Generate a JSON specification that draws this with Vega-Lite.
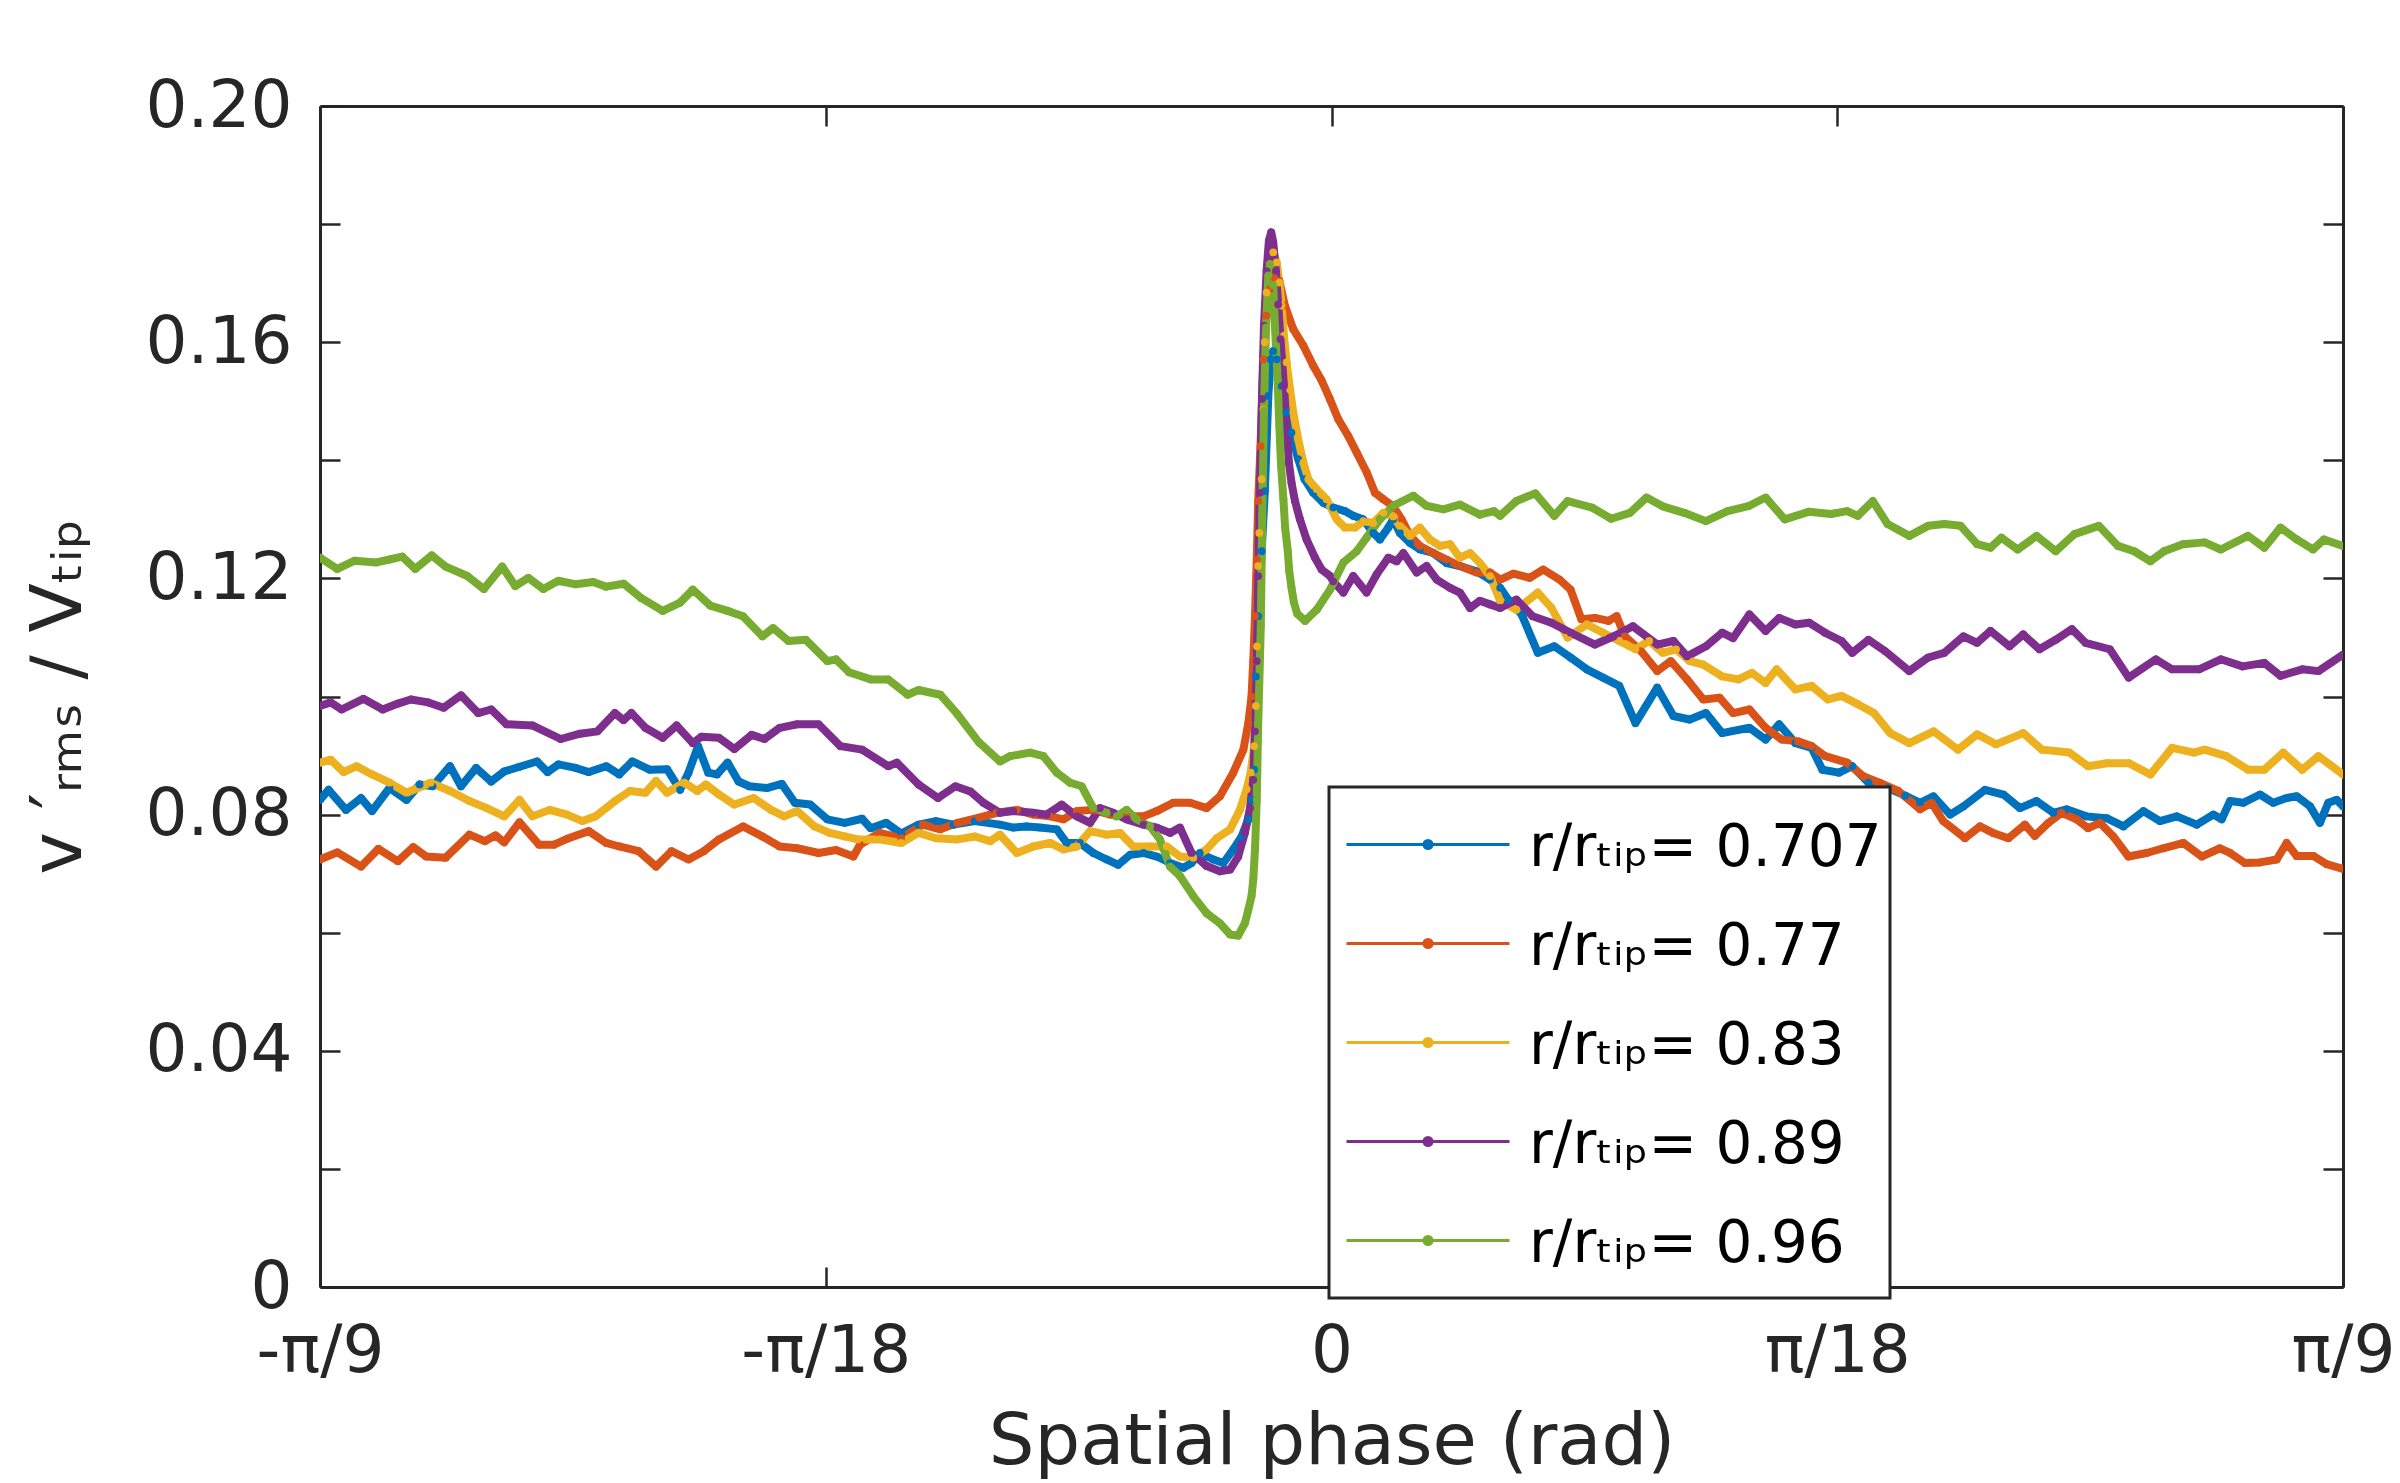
{
  "$schema": "https://vega.github.io/schema/vega-lite/v6.json",
  "autosize": {"type": "none"},
  "width": 2023,
  "height": 1181,
  "padding": {"left": 320, "top": 106, "right": 57, "bottom": 196},
  "background": "white",
  "config": {
    "view": {"stroke": null},
    "font": "DejaVu Sans",
    "axis": {"grid": false, "labelFont": "DejaVu Sans", "titleFont": "DejaVu Sans", "titleFontWeight": "normal"}
  },
  "data": {"values": [
    {"r":"0.707","phase":-0.3491,"v":0.0825},{"r":"0.707","phase":-0.3461,"v":0.0842},{"r":"0.707","phase":-0.3401,"v":0.0808},{"r":"0.707","phase":-0.3349,"v":0.0828},{"r":"0.707","phase":-0.3311,"v":0.0806},{"r":"0.707","phase":-0.3251,"v":0.0845},{"r":"0.707","phase":-0.3192,"v":0.0825},{"r":"0.707","phase":-0.3147,"v":0.0851},{"r":"0.707","phase":-0.3102,"v":0.0848},{"r":"0.707","phase":-0.3042,"v":0.0882},{"r":"0.707","phase":-0.3004,"v":0.0848},{"r":"0.707","phase":-0.2952,"v":0.0879},{"r":"0.707","phase":-0.29,"v":0.0856},{"r":"0.707","phase":-0.2855,"v":0.0873},{"r":"0.707","phase":-0.2802,"v":0.0881},{"r":"0.707","phase":-0.2742,"v":0.089},{"r":"0.707","phase":-0.2705,"v":0.0872},{"r":"0.707","phase":-0.2668,"v":0.0885},{"r":"0.707","phase":-0.2608,"v":0.0879},{"r":"0.707","phase":-0.2563,"v":0.0872},{"r":"0.707","phase":-0.2503,"v":0.0882},{"r":"0.707","phase":-0.2458,"v":0.0868},{"r":"0.707","phase":-0.2413,"v":0.089},{"r":"0.707","phase":-0.2353,"v":0.0876},{"r":"0.707","phase":-0.2293,"v":0.0877},{"r":"0.707","phase":-0.2248,"v":0.0842},{"r":"0.707","phase":-0.2219,"v":0.0871},{"r":"0.707","phase":-0.2186,"v":0.0916},{"r":"0.707","phase":-0.2151,"v":0.0871},{"r":"0.707","phase":-0.2121,"v":0.0868},{"r":"0.707","phase":-0.2084,"v":0.0888},{"r":"0.707","phase":-0.2046,"v":0.0856},{"r":"0.707","phase":-0.2009,"v":0.0848},{"r":"0.707","phase":-0.1949,"v":0.0845},{"r":"0.707","phase":-0.1897,"v":0.0852},{"r":"0.707","phase":-0.1852,"v":0.082},{"r":"0.707","phase":-0.1799,"v":0.0817},{"r":"0.707","phase":-0.174,"v":0.0792},{"r":"0.707","phase":-0.168,"v":0.0786},{"r":"0.707","phase":-0.162,"v":0.0793},{"r":"0.707","phase":-0.159,"v":0.0777},{"r":"0.707","phase":-0.1537,"v":0.0786},{"r":"0.707","phase":-0.1485,"v":0.0768},{"r":"0.707","phase":-0.1425,"v":0.0783},{"r":"0.707","phase":-0.1365,"v":0.0789},{"r":"0.707","phase":-0.1305,"v":0.0783},{"r":"0.707","phase":-0.1231,"v":0.0789},{"r":"0.707","phase":-0.1144,"v":0.0783},{"r":"0.707","phase":-0.1098,"v":0.0778},{"r":"0.707","phase":-0.1052,"v":0.078},{"r":"0.707","phase":-0.1006,"v":0.0778},{"r":"0.707","phase":-0.0948,"v":0.0775},{"r":"0.707","phase":-0.0914,"v":0.0752},{"r":"0.707","phase":-0.0868,"v":0.0752},{"r":"0.707","phase":-0.0822,"v":0.0735},{"r":"0.707","phase":-0.0776,"v":0.0724},{"r":"0.707","phase":-0.0736,"v":0.0715},{"r":"0.707","phase":-0.0695,"v":0.0732},{"r":"0.707","phase":-0.0649,"v":0.0735},{"r":"0.707","phase":-0.0603,"v":0.0729},{"r":"0.707","phase":-0.0557,"v":0.0718},{"r":"0.707","phase":-0.0511,"v":0.071},{"r":"0.707","phase":-0.0483,"v":0.0718},{"r":"0.707","phase":-0.0454,"v":0.0735},{"r":"0.707","phase":-0.0408,"v":0.0724},{"r":"0.707","phase":-0.0373,"v":0.0718},{"r":"0.707","phase":-0.0339,"v":0.0741},{"r":"0.707","phase":-0.031,"v":0.0763},{"r":"0.707","phase":-0.0287,"v":0.0792},{"r":"0.707","phase":-0.0276,"v":0.0825},{"r":"0.707","phase":-0.0267,"v":0.0876},{"r":"0.707","phase":-0.0261,"v":0.1034},{"r":"0.707","phase":-0.0253,"v":0.1136},{"r":"0.707","phase":-0.0241,"v":0.1246},{"r":"0.707","phase":-0.023,"v":0.1348},{"r":"0.707","phase":-0.0218,"v":0.1509},{"r":"0.707","phase":-0.021,"v":0.1571},{"r":"0.707","phase":-0.0201,"v":0.1585},{"r":"0.707","phase":-0.0189,"v":0.1571},{"r":"0.707","phase":-0.0172,"v":0.1526},{"r":"0.707","phase":-0.0155,"v":0.1481},{"r":"0.707","phase":-0.0138,"v":0.1447},{"r":"0.707","phase":-0.0115,"v":0.1402},{"r":"0.707","phase":-0.0093,"v":0.1368},{"r":"0.707","phase":-0.0063,"v":0.1345},{"r":"0.707","phase":-0.0028,"v":0.1328},{"r":"0.707","phase":0.0006,"v":0.132},{"r":"0.707","phase":0.0046,"v":0.1314},{"r":"0.707","phase":0.0075,"v":0.1306},{"r":"0.707","phase":0.0109,"v":0.13},{"r":"0.707","phase":0.0144,"v":0.1277},{"r":"0.707","phase":0.0167,"v":0.1266},{"r":"0.707","phase":0.0196,"v":0.1286},{"r":"0.707","phase":0.0213,"v":0.13},{"r":"0.707","phase":0.0236,"v":0.1277},{"r":"0.707","phase":0.0271,"v":0.126},{"r":"0.707","phase":0.0305,"v":0.1249},{"r":"0.707","phase":0.0351,"v":0.1243},{"r":"0.707","phase":0.0397,"v":0.1226},{"r":"0.707","phase":0.0443,"v":0.1221},{"r":"0.707","phase":0.0501,"v":0.1212},{"r":"0.707","phase":0.0547,"v":0.1198},{"r":"0.707","phase":0.0582,"v":0.1184},{"r":"0.707","phase":0.061,"v":0.1164},{"r":"0.707","phase":0.0656,"v":0.1139},{"r":"0.707","phase":0.0712,"v":0.1074},{"r":"0.707","phase":0.0769,"v":0.1085},{"r":"0.707","phase":0.0825,"v":0.1066},{"r":"0.707","phase":0.0881,"v":0.1046},{"r":"0.707","phase":0.0937,"v":0.1032},{"r":"0.707","phase":0.0993,"v":0.1018},{"r":"0.707","phase":0.1049,"v":0.0955},{"r":"0.707","phase":0.1124,"v":0.1015},{"r":"0.707","phase":0.118,"v":0.0967},{"r":"0.707","phase":0.1236,"v":0.0961},{"r":"0.707","phase":0.1292,"v":0.0972},{"r":"0.707","phase":0.1348,"v":0.0938},{"r":"0.707","phase":0.1442,"v":0.0947},{"r":"0.707","phase":0.1498,"v":0.0927},{"r":"0.707","phase":0.1545,"v":0.0953},{"r":"0.707","phase":0.1601,"v":0.0921},{"r":"0.707","phase":0.1657,"v":0.0913},{"r":"0.707","phase":0.1694,"v":0.0876},{"r":"0.707","phase":0.1751,"v":0.0871},{"r":"0.707","phase":0.1797,"v":0.0882},{"r":"0.707","phase":0.1853,"v":0.0854},{"r":"0.707","phase":0.192,"v":0.0845},{"r":"0.707","phase":0.198,"v":0.0832},{"r":"0.707","phase":0.2031,"v":0.082},{"r":"0.707","phase":0.2077,"v":0.0831},{"r":"0.707","phase":0.2135,"v":0.08},{"r":"0.707","phase":0.2181,"v":0.0814},{"r":"0.707","phase":0.2255,"v":0.0842},{"r":"0.707","phase":0.2319,"v":0.0834},{"r":"0.707","phase":0.2376,"v":0.0811},{"r":"0.707","phase":0.2433,"v":0.0823},{"r":"0.707","phase":0.2491,"v":0.0803},{"r":"0.707","phase":0.2537,"v":0.0809},{"r":"0.707","phase":0.2605,"v":0.0797},{"r":"0.707","phase":0.2675,"v":0.0794},{"r":"0.707","phase":0.2733,"v":0.078},{"r":"0.707","phase":0.2802,"v":0.0806},{"r":"0.707","phase":0.2859,"v":0.0789},{"r":"0.707","phase":0.2917,"v":0.0797},{"r":"0.707","phase":0.2986,"v":0.0783},{"r":"0.707","phase":0.3043,"v":0.08},{"r":"0.707","phase":0.3072,"v":0.0792},{"r":"0.707","phase":0.3101,"v":0.0823},{"r":"0.707","phase":0.3147,"v":0.082},{"r":"0.707","phase":0.3204,"v":0.0834},{"r":"0.707","phase":0.325,"v":0.082},{"r":"0.707","phase":0.3296,"v":0.0828},{"r":"0.707","phase":0.3331,"v":0.0831},{"r":"0.707","phase":0.3377,"v":0.0814},{"r":"0.707","phase":0.3411,"v":0.0786},{"r":"0.707","phase":0.344,"v":0.082},{"r":"0.707","phase":0.3469,"v":0.0825},{"r":"0.707","phase":0.3491,"v":0.0814},

    {"r":"0.77","phase":-0.3491,"v":0.0724},{"r":"0.77","phase":-0.3431,"v":0.0736},{"r":"0.77","phase":-0.3349,"v":0.0712},{"r":"0.77","phase":-0.3289,"v":0.0742},{"r":"0.77","phase":-0.3222,"v":0.0721},{"r":"0.77","phase":-0.3169,"v":0.0745},{"r":"0.77","phase":-0.3124,"v":0.0729},{"r":"0.77","phase":-0.3057,"v":0.0727},{"r":"0.77","phase":-0.2975,"v":0.0766},{"r":"0.77","phase":-0.2922,"v":0.0755},{"r":"0.77","phase":-0.2885,"v":0.0765},{"r":"0.77","phase":-0.2855,"v":0.0753},{"r":"0.77","phase":-0.2802,"v":0.0787},{"r":"0.77","phase":-0.2735,"v":0.0749},{"r":"0.77","phase":-0.2683,"v":0.0749},{"r":"0.77","phase":-0.2638,"v":0.0759},{"r":"0.77","phase":-0.2563,"v":0.0772},{"r":"0.77","phase":-0.2503,"v":0.0752},{"r":"0.77","phase":-0.2458,"v":0.0746},{"r":"0.77","phase":-0.2391,"v":0.0738},{"r":"0.77","phase":-0.2331,"v":0.0712},{"r":"0.77","phase":-0.2278,"v":0.0738},{"r":"0.77","phase":-0.2219,"v":0.0724},{"r":"0.77","phase":-0.2166,"v":0.0738},{"r":"0.77","phase":-0.2114,"v":0.0758},{"r":"0.77","phase":-0.2031,"v":0.078},{"r":"0.77","phase":-0.1964,"v":0.0763},{"r":"0.77","phase":-0.1904,"v":0.0746},{"r":"0.77","phase":-0.1844,"v":0.0743},{"r":"0.77","phase":-0.177,"v":0.0735},{"r":"0.77","phase":-0.171,"v":0.074},{"r":"0.77","phase":-0.165,"v":0.0729},{"r":"0.77","phase":-0.1627,"v":0.0749},{"r":"0.77","phase":-0.156,"v":0.0769},{"r":"0.77","phase":-0.1485,"v":0.076},{"r":"0.77","phase":-0.141,"v":0.0783},{"r":"0.77","phase":-0.135,"v":0.0775},{"r":"0.77","phase":-0.1291,"v":0.0786},{"r":"0.77","phase":-0.1216,"v":0.0795},{"r":"0.77","phase":-0.1156,"v":0.0803},{"r":"0.77","phase":-0.1086,"v":0.0808},{"r":"0.77","phase":-0.1029,"v":0.08},{"r":"0.77","phase":-0.0971,"v":0.0797},{"r":"0.77","phase":-0.0925,"v":0.0792},{"r":"0.77","phase":-0.0879,"v":0.0806},{"r":"0.77","phase":-0.0822,"v":0.0808},{"r":"0.77","phase":-0.0764,"v":0.08},{"r":"0.77","phase":-0.0707,"v":0.0797},{"r":"0.77","phase":-0.0649,"v":0.0797},{"r":"0.77","phase":-0.0603,"v":0.0806},{"r":"0.77","phase":-0.0546,"v":0.082},{"r":"0.77","phase":-0.0488,"v":0.082},{"r":"0.77","phase":-0.0431,"v":0.0811},{"r":"0.77","phase":-0.0385,"v":0.0831},{"r":"0.77","phase":-0.0339,"v":0.0871},{"r":"0.77","phase":-0.0304,"v":0.091},{"r":"0.77","phase":-0.0287,"v":0.0955},{"r":"0.77","phase":-0.0276,"v":0.1},{"r":"0.77","phase":-0.027,"v":0.106},{"r":"0.77","phase":-0.0264,"v":0.1136},{"r":"0.77","phase":-0.0258,"v":0.1232},{"r":"0.77","phase":-0.0253,"v":0.1331},{"r":"0.77","phase":-0.0245,"v":0.1424},{"r":"0.77","phase":-0.0235,"v":0.1571},{"r":"0.77","phase":-0.0226,"v":0.1645},{"r":"0.77","phase":-0.0212,"v":0.169},{"r":"0.77","phase":-0.0199,"v":0.171},{"r":"0.77","phase":-0.018,"v":0.1704},{"r":"0.77","phase":-0.0161,"v":0.1662},{"r":"0.77","phase":-0.0132,"v":0.1622},{"r":"0.77","phase":-0.0097,"v":0.1594},{"r":"0.77","phase":-0.0063,"v":0.156},{"r":"0.77","phase":-0.0034,"v":0.1535},{"r":"0.77","phase":-0.0005,"v":0.1503},{"r":"0.77","phase":0.0023,"v":0.147},{"r":"0.77","phase":0.0058,"v":0.1441},{"r":"0.77","phase":0.0087,"v":0.1413},{"r":"0.77","phase":0.0122,"v":0.1379},{"r":"0.77","phase":0.015,"v":0.1345},{"r":"0.77","phase":0.0179,"v":0.1334},{"r":"0.77","phase":0.0213,"v":0.1322},{"r":"0.77","phase":0.0242,"v":0.13},{"r":"0.77","phase":0.0271,"v":0.1272},{"r":"0.77","phase":0.0305,"v":0.1255},{"r":"0.77","phase":0.0351,"v":0.1243},{"r":"0.77","phase":0.0397,"v":0.1232},{"r":"0.77","phase":0.0443,"v":0.1221},{"r":"0.77","phase":0.0501,"v":0.121},{"r":"0.77","phase":0.0547,"v":0.121},{"r":"0.77","phase":0.0582,"v":0.1198},{"r":"0.77","phase":0.0628,"v":0.1208},{"r":"0.77","phase":0.0684,"v":0.1201},{"r":"0.77","phase":0.0731,"v":0.1215},{"r":"0.77","phase":0.0787,"v":0.1198},{"r":"0.77","phase":0.0825,"v":0.1181},{"r":"0.77","phase":0.0862,"v":0.1131},{"r":"0.77","phase":0.0909,"v":0.1133},{"r":"0.77","phase":0.0956,"v":0.1128},{"r":"0.77","phase":0.0984,"v":0.1136},{"r":"0.77","phase":0.1012,"v":0.1102},{"r":"0.77","phase":0.1068,"v":0.1077},{"r":"0.77","phase":0.1124,"v":0.1043},{"r":"0.77","phase":0.1171,"v":0.106},{"r":"0.77","phase":0.1227,"v":0.1029},{"r":"0.77","phase":0.1283,"v":0.0995},{"r":"0.77","phase":0.1339,"v":0.0998},{"r":"0.77","phase":0.1386,"v":0.0972},{"r":"0.77","phase":0.1442,"v":0.0978},{"r":"0.77","phase":0.1498,"v":0.0947},{"r":"0.77","phase":0.1554,"v":0.0927},{"r":"0.77","phase":0.161,"v":0.0924},{"r":"0.77","phase":0.1657,"v":0.0916},{"r":"0.77","phase":0.1704,"v":0.0899},{"r":"0.77","phase":0.1779,"v":0.0888},{"r":"0.77","phase":0.1835,"v":0.0865},{"r":"0.77","phase":0.1891,"v":0.0854},{"r":"0.77","phase":0.1956,"v":0.084},{"r":"0.77","phase":0.2031,"v":0.0809},{"r":"0.77","phase":0.2071,"v":0.082},{"r":"0.77","phase":0.2111,"v":0.0789},{"r":"0.77","phase":0.2186,"v":0.076},{"r":"0.77","phase":0.2238,"v":0.078},{"r":"0.77","phase":0.2283,"v":0.0769},{"r":"0.77","phase":0.2336,"v":0.076},{"r":"0.77","phase":0.2393,"v":0.0783},{"r":"0.77","phase":0.2427,"v":0.0764},{"r":"0.77","phase":0.2474,"v":0.0786},{"r":"0.77","phase":0.252,"v":0.0803},{"r":"0.77","phase":0.2571,"v":0.0792},{"r":"0.77","phase":0.2611,"v":0.0777},{"r":"0.77","phase":0.2652,"v":0.0786},{"r":"0.77","phase":0.2698,"v":0.0763},{"r":"0.77","phase":0.275,"v":0.0729},{"r":"0.77","phase":0.2813,"v":0.0735},{"r":"0.77","phase":0.287,"v":0.0743},{"r":"0.77","phase":0.294,"v":0.0752},{"r":"0.77","phase":0.3003,"v":0.0729},{"r":"0.77","phase":0.3066,"v":0.0743},{"r":"0.77","phase":0.3101,"v":0.0735},{"r":"0.77","phase":0.3152,"v":0.0718},{"r":"0.77","phase":0.3204,"v":0.0719},{"r":"0.77","phase":0.3262,"v":0.0724},{"r":"0.77","phase":0.3296,"v":0.0752},{"r":"0.77","phase":0.3331,"v":0.073},{"r":"0.77","phase":0.3388,"v":0.073},{"r":"0.77","phase":0.3434,"v":0.0716},{"r":"0.77","phase":0.3491,"v":0.0708},

    {"r":"0.83","phase":-0.3491,"v":0.0888},{"r":"0.83","phase":-0.3454,"v":0.0893},{"r":"0.83","phase":-0.3409,"v":0.0872},{"r":"0.83","phase":-0.3364,"v":0.0882},{"r":"0.83","phase":-0.3311,"v":0.0868},{"r":"0.83","phase":-0.3251,"v":0.0854},{"r":"0.83","phase":-0.3192,"v":0.0837},{"r":"0.83","phase":-0.3109,"v":0.0854},{"r":"0.83","phase":-0.3042,"v":0.084},{"r":"0.83","phase":-0.2975,"v":0.0823},{"r":"0.83","phase":-0.2915,"v":0.0811},{"r":"0.83","phase":-0.2855,"v":0.0797},{"r":"0.83","phase":-0.2802,"v":0.0825},{"r":"0.83","phase":-0.2758,"v":0.0797},{"r":"0.83","phase":-0.2698,"v":0.0808},{"r":"0.83","phase":-0.2638,"v":0.08},{"r":"0.83","phase":-0.2585,"v":0.0789},{"r":"0.83","phase":-0.254,"v":0.0797},{"r":"0.83","phase":-0.2473,"v":0.0823},{"r":"0.83","phase":-0.2421,"v":0.084},{"r":"0.83","phase":-0.2368,"v":0.0837},{"r":"0.83","phase":-0.2331,"v":0.0857},{"r":"0.83","phase":-0.2293,"v":0.0837},{"r":"0.83","phase":-0.2234,"v":0.0854},{"r":"0.83","phase":-0.2189,"v":0.084},{"r":"0.83","phase":-0.2159,"v":0.0851},{"r":"0.83","phase":-0.2114,"v":0.0834},{"r":"0.83","phase":-0.2061,"v":0.0817},{"r":"0.83","phase":-0.1994,"v":0.0828},{"r":"0.83","phase":-0.1934,"v":0.0808},{"r":"0.83","phase":-0.1889,"v":0.0797},{"r":"0.83","phase":-0.1844,"v":0.0806},{"r":"0.83","phase":-0.1784,"v":0.078},{"r":"0.83","phase":-0.1732,"v":0.0769},{"r":"0.83","phase":-0.168,"v":0.0763},{"r":"0.83","phase":-0.1635,"v":0.0758},{"r":"0.83","phase":-0.156,"v":0.0758},{"r":"0.83","phase":-0.1485,"v":0.0752},{"r":"0.83","phase":-0.1425,"v":0.0769},{"r":"0.83","phase":-0.1365,"v":0.076},{"r":"0.83","phase":-0.1291,"v":0.0758},{"r":"0.83","phase":-0.1231,"v":0.0763},{"r":"0.83","phase":-0.1178,"v":0.0755},{"r":"0.83","phase":-0.1144,"v":0.0766},{"r":"0.83","phase":-0.1086,"v":0.0735},{"r":"0.83","phase":-0.1029,"v":0.0746},{"r":"0.83","phase":-0.0971,"v":0.0752},{"r":"0.83","phase":-0.0925,"v":0.0741},{"r":"0.83","phase":-0.0879,"v":0.0746},{"r":"0.83","phase":-0.0833,"v":0.0772},{"r":"0.83","phase":-0.0776,"v":0.0766},{"r":"0.83","phase":-0.073,"v":0.0769},{"r":"0.83","phase":-0.0684,"v":0.0746},{"r":"0.83","phase":-0.0626,"v":0.0746},{"r":"0.83","phase":-0.0569,"v":0.0746},{"r":"0.83","phase":-0.0523,"v":0.0729},{"r":"0.83","phase":-0.0477,"v":0.0727},{"r":"0.83","phase":-0.0431,"v":0.0741},{"r":"0.83","phase":-0.0396,"v":0.076},{"r":"0.83","phase":-0.035,"v":0.0775},{"r":"0.83","phase":-0.0316,"v":0.0808},{"r":"0.83","phase":-0.0293,"v":0.0843},{"r":"0.83","phase":-0.0279,"v":0.0871},{"r":"0.83","phase":-0.0267,"v":0.0916},{"r":"0.83","phase":-0.0261,"v":0.0984},{"r":"0.83","phase":-0.0257,"v":0.1085},{"r":"0.83","phase":-0.0253,"v":0.1221},{"r":"0.83","phase":-0.0249,"v":0.1277},{"r":"0.83","phase":-0.0241,"v":0.1368},{"r":"0.83","phase":-0.0235,"v":0.1486},{"r":"0.83","phase":-0.023,"v":0.16},{"r":"0.83","phase":-0.0224,"v":0.1684},{"r":"0.83","phase":-0.0212,"v":0.1732},{"r":"0.83","phase":-0.0201,"v":0.1752},{"r":"0.83","phase":-0.0189,"v":0.1735},{"r":"0.83","phase":-0.018,"v":0.1701},{"r":"0.83","phase":-0.0172,"v":0.1662},{"r":"0.83","phase":-0.0164,"v":0.1611},{"r":"0.83","phase":-0.0155,"v":0.1566},{"r":"0.83","phase":-0.0143,"v":0.152},{"r":"0.83","phase":-0.0132,"v":0.1481},{"r":"0.83","phase":-0.0115,"v":0.1436},{"r":"0.83","phase":-0.0097,"v":0.1396},{"r":"0.83","phase":-0.008,"v":0.1368},{"r":"0.83","phase":-0.0051,"v":0.1351},{"r":"0.83","phase":-0.0017,"v":0.1334},{"r":"0.83","phase":0.0018,"v":0.13},{"r":"0.83","phase":0.0046,"v":0.1286},{"r":"0.83","phase":0.0081,"v":0.1286},{"r":"0.83","phase":0.011,"v":0.1297},{"r":"0.83","phase":0.0144,"v":0.1294},{"r":"0.83","phase":0.0179,"v":0.1311},{"r":"0.83","phase":0.0213,"v":0.1305},{"r":"0.83","phase":0.0236,"v":0.1289},{"r":"0.83","phase":0.0271,"v":0.1272},{"r":"0.83","phase":0.0305,"v":0.1286},{"r":"0.83","phase":0.0339,"v":0.1266},{"r":"0.83","phase":0.0374,"v":0.1255},{"r":"0.83","phase":0.0409,"v":0.1258},{"r":"0.83","phase":0.0443,"v":0.1235},{"r":"0.83","phase":0.0478,"v":0.1243},{"r":"0.83","phase":0.0512,"v":0.1226},{"r":"0.83","phase":0.0547,"v":0.1204},{"r":"0.83","phase":0.0582,"v":0.1162},{"r":"0.83","phase":0.0638,"v":0.1147},{"r":"0.83","phase":0.0712,"v":0.1176},{"r":"0.83","phase":0.0759,"v":0.115},{"r":"0.83","phase":0.0815,"v":0.11},{"r":"0.83","phase":0.0881,"v":0.1122},{"r":"0.83","phase":0.0937,"v":0.1108},{"r":"0.83","phase":0.0993,"v":0.1094},{"r":"0.83","phase":0.1049,"v":0.108},{"r":"0.83","phase":0.1096,"v":0.1094},{"r":"0.83","phase":0.1143,"v":0.1074},{"r":"0.83","phase":0.1189,"v":0.108},{"r":"0.83","phase":0.1236,"v":0.106},{"r":"0.83","phase":0.1283,"v":0.1054},{"r":"0.83","phase":0.1348,"v":0.1034},{"r":"0.83","phase":0.1404,"v":0.1029},{"r":"0.83","phase":0.1451,"v":0.104},{"r":"0.83","phase":0.1498,"v":0.1023},{"r":"0.83","phase":0.1536,"v":0.1046},{"r":"0.83","phase":0.1601,"v":0.1012},{"r":"0.83","phase":0.1657,"v":0.1018},{"r":"0.83","phase":0.1713,"v":0.0995},{"r":"0.83","phase":0.176,"v":0.1001},{"r":"0.83","phase":0.1816,"v":0.0987},{"r":"0.83","phase":0.1872,"v":0.0972},{"r":"0.83","phase":0.1928,"v":0.0938},{"r":"0.83","phase":0.1994,"v":0.0921},{"r":"0.83","phase":0.2078,"v":0.0941},{"r":"0.83","phase":0.2162,"v":0.091},{"r":"0.83","phase":0.2228,"v":0.0936},{"r":"0.83","phase":0.2293,"v":0.0919},{"r":"0.83","phase":0.2387,"v":0.0938},{"r":"0.83","phase":0.2452,"v":0.091},{"r":"0.83","phase":0.2546,"v":0.0905},{"r":"0.83","phase":0.2611,"v":0.0882},{"r":"0.83","phase":0.2677,"v":0.0887},{"r":"0.83","phase":0.2752,"v":0.0887},{"r":"0.83","phase":0.2826,"v":0.0868},{"r":"0.83","phase":0.2901,"v":0.0913},{"r":"0.83","phase":0.2976,"v":0.0905},{"r":"0.83","phase":0.3013,"v":0.091},{"r":"0.83","phase":0.3088,"v":0.0899},{"r":"0.83","phase":0.3163,"v":0.0876},{"r":"0.83","phase":0.3219,"v":0.0876},{"r":"0.83","phase":0.3284,"v":0.0905},{"r":"0.83","phase":0.335,"v":0.0876},{"r":"0.83","phase":0.3406,"v":0.0899},{"r":"0.83","phase":0.3491,"v":0.0868},

    {"r":"0.89","phase":-0.3491,"v":0.0984},{"r":"0.89","phase":-0.3454,"v":0.099},{"r":"0.89","phase":-0.3416,"v":0.0978},{"r":"0.89","phase":-0.3341,"v":0.0996},{"r":"0.89","phase":-0.3274,"v":0.0978},{"r":"0.89","phase":-0.3222,"v":0.0988},{"r":"0.89","phase":-0.3177,"v":0.0995},{"r":"0.89","phase":-0.3117,"v":0.099},{"r":"0.89","phase":-0.3064,"v":0.0981},{"r":"0.89","phase":-0.3004,"v":0.1002},{"r":"0.89","phase":-0.2945,"v":0.0972},{"r":"0.89","phase":-0.29,"v":0.0978},{"r":"0.89","phase":-0.2847,"v":0.0953},{"r":"0.89","phase":-0.2758,"v":0.0951},{"r":"0.89","phase":-0.266,"v":0.0928},{"r":"0.89","phase":-0.2593,"v":0.0937},{"r":"0.89","phase":-0.2533,"v":0.0941},{"r":"0.89","phase":-0.2473,"v":0.0972},{"r":"0.89","phase":-0.2443,"v":0.096},{"r":"0.89","phase":-0.2416,"v":0.0972},{"r":"0.89","phase":-0.2368,"v":0.0947},{"r":"0.89","phase":-0.2308,"v":0.093},{"r":"0.89","phase":-0.226,"v":0.0951},{"r":"0.89","phase":-0.2204,"v":0.0921},{"r":"0.89","phase":-0.2174,"v":0.0932},{"r":"0.89","phase":-0.2114,"v":0.093},{"r":"0.89","phase":-0.2061,"v":0.0911},{"r":"0.89","phase":-0.2001,"v":0.0935},{"r":"0.89","phase":-0.1957,"v":0.0928},{"r":"0.89","phase":-0.1904,"v":0.0947},{"r":"0.89","phase":-0.1844,"v":0.0953},{"r":"0.89","phase":-0.177,"v":0.0953},{"r":"0.89","phase":-0.1695,"v":0.0916},{"r":"0.89","phase":-0.162,"v":0.091},{"r":"0.89","phase":-0.153,"v":0.0882},{"r":"0.89","phase":-0.15,"v":0.0888},{"r":"0.89","phase":-0.1425,"v":0.0851},{"r":"0.89","phase":-0.1358,"v":0.0828},{"r":"0.89","phase":-0.1298,"v":0.0848},{"r":"0.89","phase":-0.1246,"v":0.0839},{"r":"0.89","phase":-0.1201,"v":0.082},{"r":"0.89","phase":-0.1144,"v":0.0803},{"r":"0.89","phase":-0.1098,"v":0.0806},{"r":"0.89","phase":-0.1029,"v":0.0803},{"r":"0.89","phase":-0.0983,"v":0.08},{"r":"0.89","phase":-0.0931,"v":0.0817},{"r":"0.89","phase":-0.0879,"v":0.0797},{"r":"0.89","phase":-0.0833,"v":0.0786},{"r":"0.89","phase":-0.0799,"v":0.0811},{"r":"0.89","phase":-0.0753,"v":0.0803},{"r":"0.89","phase":-0.0707,"v":0.0792},{"r":"0.89","phase":-0.0649,"v":0.0783},{"r":"0.89","phase":-0.0603,"v":0.0778},{"r":"0.89","phase":-0.0557,"v":0.0769},{"r":"0.89","phase":-0.0523,"v":0.0778},{"r":"0.89","phase":-0.0483,"v":0.0735},{"r":"0.89","phase":-0.0431,"v":0.0713},{"r":"0.89","phase":-0.0385,"v":0.0704},{"r":"0.89","phase":-0.035,"v":0.0707},{"r":"0.89","phase":-0.0322,"v":0.0729},{"r":"0.89","phase":-0.0299,"v":0.0769},{"r":"0.89","phase":-0.0281,"v":0.0811},{"r":"0.89","phase":-0.027,"v":0.0859},{"r":"0.89","phase":-0.0264,"v":0.0941},{"r":"0.89","phase":-0.0258,"v":0.106},{"r":"0.89","phase":-0.0253,"v":0.1204},{"r":"0.89","phase":-0.0247,"v":0.1345},{"r":"0.89","phase":-0.024,"v":0.1504},{"r":"0.89","phase":-0.0233,"v":0.1628},{"r":"0.89","phase":-0.0224,"v":0.1721},{"r":"0.89","phase":-0.0216,"v":0.1772},{"r":"0.89","phase":-0.0208,"v":0.1786},{"r":"0.89","phase":-0.0201,"v":0.1769},{"r":"0.89","phase":-0.0192,"v":0.1721},{"r":"0.89","phase":-0.0184,"v":0.1664},{"r":"0.89","phase":-0.0176,"v":0.1605},{"r":"0.89","phase":-0.0164,"v":0.1526},{"r":"0.89","phase":-0.0147,"v":0.1396},{"r":"0.89","phase":-0.0138,"v":0.1362},{"r":"0.89","phase":-0.0126,"v":0.1331},{"r":"0.89","phase":-0.0109,"v":0.13},{"r":"0.89","phase":-0.0086,"v":0.1266},{"r":"0.89","phase":-0.0057,"v":0.1235},{"r":"0.89","phase":-0.0034,"v":0.1215},{"r":"0.89","phase":-0.0005,"v":0.1204},{"r":"0.89","phase":0.0006,"v":0.1195},{"r":"0.89","phase":0.0041,"v":0.1176},{"r":"0.89","phase":0.0075,"v":0.1204},{"r":"0.89","phase":0.0121,"v":0.1176},{"r":"0.89","phase":0.0156,"v":0.1207},{"r":"0.89","phase":0.0196,"v":0.1235},{"r":"0.89","phase":0.0225,"v":0.1229},{"r":"0.89","phase":0.0248,"v":0.1243},{"r":"0.89","phase":0.0294,"v":0.121},{"r":"0.89","phase":0.0328,"v":0.1221},{"r":"0.89","phase":0.0363,"v":0.1198},{"r":"0.89","phase":0.0409,"v":0.1184},{"r":"0.89","phase":0.0443,"v":0.1176},{"r":"0.89","phase":0.0478,"v":0.115},{"r":"0.89","phase":0.0512,"v":0.1162},{"r":"0.89","phase":0.0547,"v":0.1156},{"r":"0.89","phase":0.0582,"v":0.115},{"r":"0.89","phase":0.0638,"v":0.1164},{"r":"0.89","phase":0.0694,"v":0.1136},{"r":"0.89","phase":0.0759,"v":0.1125},{"r":"0.89","phase":0.0825,"v":0.1108},{"r":"0.89","phase":0.0909,"v":0.1088},{"r":"0.89","phase":0.0974,"v":0.1102},{"r":"0.89","phase":0.104,"v":0.1119},{"r":"0.89","phase":0.1124,"v":0.1088},{"r":"0.89","phase":0.118,"v":0.1094},{"r":"0.89","phase":0.1227,"v":0.1068},{"r":"0.89","phase":0.1292,"v":0.1085},{"r":"0.89","phase":0.1348,"v":0.1108},{"r":"0.89","phase":0.1386,"v":0.1099},{"r":"0.89","phase":0.1442,"v":0.1139},{"r":"0.89","phase":0.1498,"v":0.1111},{"r":"0.89","phase":0.1545,"v":0.1133},{"r":"0.89","phase":0.1601,"v":0.1122},{"r":"0.89","phase":0.1648,"v":0.1125},{"r":"0.89","phase":0.1703,"v":0.1108},{"r":"0.89","phase":0.176,"v":0.1094},{"r":"0.89","phase":0.1797,"v":0.1074},{"r":"0.89","phase":0.1853,"v":0.1096},{"r":"0.89","phase":0.191,"v":0.1077},{"r":"0.89","phase":0.1994,"v":0.1043},{"r":"0.89","phase":0.2059,"v":0.1066},{"r":"0.89","phase":0.2115,"v":0.1074},{"r":"0.89","phase":0.2181,"v":0.1102},{"r":"0.89","phase":0.2228,"v":0.1091},{"r":"0.89","phase":0.2274,"v":0.1111},{"r":"0.89","phase":0.234,"v":0.1085},{"r":"0.89","phase":0.2387,"v":0.1105},{"r":"0.89","phase":0.2443,"v":0.108},{"r":"0.89","phase":0.2499,"v":0.1096},{"r":"0.89","phase":0.2555,"v":0.1114},{"r":"0.89","phase":0.2602,"v":0.1091},{"r":"0.89","phase":0.2686,"v":0.108},{"r":"0.89","phase":0.2751,"v":0.1032},{"r":"0.89","phase":0.2845,"v":0.1063},{"r":"0.89","phase":0.2901,"v":0.1046},{"r":"0.89","phase":0.2994,"v":0.1046},{"r":"0.89","phase":0.3069,"v":0.1063},{"r":"0.89","phase":0.3144,"v":0.1051},{"r":"0.89","phase":0.3219,"v":0.1057},{"r":"0.89","phase":0.3275,"v":0.1035},{"r":"0.89","phase":0.335,"v":0.1046},{"r":"0.89","phase":0.3406,"v":0.1043},{"r":"0.89","phase":0.3491,"v":0.1071},

    {"r":"0.96","phase":-0.3491,"v":0.1235},{"r":"0.96","phase":-0.3431,"v":0.1216},{"r":"0.96","phase":-0.3371,"v":0.123},{"r":"0.96","phase":-0.3296,"v":0.1227},{"r":"0.96","phase":-0.3251,"v":0.1232},{"r":"0.96","phase":-0.3207,"v":0.1237},{"r":"0.96","phase":-0.3162,"v":0.1216},{"r":"0.96","phase":-0.3105,"v":0.1239},{"r":"0.96","phase":-0.3057,"v":0.122},{"r":"0.96","phase":-0.2982,"v":0.1204},{"r":"0.96","phase":-0.2925,"v":0.1182},{"r":"0.96","phase":-0.2862,"v":0.122},{"r":"0.96","phase":-0.2817,"v":0.1187},{"r":"0.96","phase":-0.2772,"v":0.1201},{"r":"0.96","phase":-0.272,"v":0.1182},{"r":"0.96","phase":-0.2668,"v":0.1196},{"r":"0.96","phase":-0.2608,"v":0.119},{"r":"0.96","phase":-0.2548,"v":0.1194},{"r":"0.96","phase":-0.2503,"v":0.1186},{"r":"0.96","phase":-0.2443,"v":0.1191},{"r":"0.96","phase":-0.2383,"v":0.1167},{"r":"0.96","phase":-0.2308,"v":0.1145},{"r":"0.96","phase":-0.2248,"v":0.1159},{"r":"0.96","phase":-0.2204,"v":0.1181},{"r":"0.96","phase":-0.2144,"v":0.1154},{"r":"0.96","phase":-0.2084,"v":0.1145},{"r":"0.96","phase":-0.2031,"v":0.1136},{"r":"0.96","phase":-0.1964,"v":0.1102},{"r":"0.96","phase":-0.1927,"v":0.1116},{"r":"0.96","phase":-0.1874,"v":0.1094},{"r":"0.96","phase":-0.1814,"v":0.1096},{"r":"0.96","phase":-0.174,"v":0.106},{"r":"0.96","phase":-0.171,"v":0.1063},{"r":"0.96","phase":-0.1665,"v":0.1041},{"r":"0.96","phase":-0.159,"v":0.1029},{"r":"0.96","phase":-0.153,"v":0.1029},{"r":"0.96","phase":-0.1463,"v":0.1003},{"r":"0.96","phase":-0.1425,"v":0.1011},{"r":"0.96","phase":-0.135,"v":0.1003},{"r":"0.96","phase":-0.1291,"v":0.097},{"r":"0.96","phase":-0.1216,"v":0.0922},{"r":"0.96","phase":-0.1144,"v":0.089},{"r":"0.96","phase":-0.1109,"v":0.0899},{"r":"0.96","phase":-0.104,"v":0.0905},{"r":"0.96","phase":-0.0994,"v":0.0899},{"r":"0.96","phase":-0.0948,"v":0.0871},{"r":"0.96","phase":-0.0902,"v":0.0854},{"r":"0.96","phase":-0.0862,"v":0.0848},{"r":"0.96","phase":-0.0822,"v":0.0811},{"r":"0.96","phase":-0.0776,"v":0.0803},{"r":"0.96","phase":-0.0741,"v":0.0797},{"r":"0.96","phase":-0.0707,"v":0.0808},{"r":"0.96","phase":-0.0672,"v":0.0792},{"r":"0.96","phase":-0.0626,"v":0.078},{"r":"0.96","phase":-0.0592,"v":0.0758},{"r":"0.96","phase":-0.0557,"v":0.0712},{"r":"0.96","phase":-0.0523,"v":0.0696},{"r":"0.96","phase":-0.0477,"v":0.0662},{"r":"0.96","phase":-0.0431,"v":0.0633},{"r":"0.96","phase":-0.0385,"v":0.0616},{"r":"0.96","phase":-0.035,"v":0.0597},{"r":"0.96","phase":-0.0322,"v":0.0595},{"r":"0.96","phase":-0.0299,"v":0.0616},{"r":"0.96","phase":-0.0287,"v":0.0639},{"r":"0.96","phase":-0.0276,"v":0.0662},{"r":"0.96","phase":-0.027,"v":0.069},{"r":"0.96","phase":-0.0264,"v":0.0741},{"r":"0.96","phase":-0.0258,"v":0.0825},{"r":"0.96","phase":-0.0253,"v":0.0953},{"r":"0.96","phase":-0.0244,"v":0.1119},{"r":"0.96","phase":-0.0239,"v":0.1306},{"r":"0.96","phase":-0.0233,"v":0.1484},{"r":"0.96","phase":-0.0226,"v":0.1625},{"r":"0.96","phase":-0.0218,"v":0.1713},{"r":"0.96","phase":-0.0212,"v":0.1732},{"r":"0.96","phase":-0.0201,"v":0.1696},{"r":"0.96","phase":-0.0195,"v":0.1625},{"r":"0.96","phase":-0.0186,"v":0.1537},{"r":"0.96","phase":-0.018,"v":0.1458},{"r":"0.96","phase":-0.0174,"v":0.1391},{"r":"0.96","phase":-0.0166,"v":0.1334},{"r":"0.96","phase":-0.016,"v":0.1286},{"r":"0.96","phase":-0.0151,"v":0.1247},{"r":"0.96","phase":-0.0146,"v":0.1213},{"r":"0.96","phase":-0.0138,"v":0.1184},{"r":"0.96","phase":-0.013,"v":0.116},{"r":"0.96","phase":-0.0118,"v":0.114},{"r":"0.96","phase":-0.0091,"v":0.1128},{"r":"0.96","phase":-0.0051,"v":0.1147},{"r":"0.96","phase":-0.0005,"v":0.1181},{"r":"0.96","phase":0.0041,"v":0.1227},{"r":"0.96","phase":0.0087,"v":0.1246},{"r":"0.96","phase":0.0121,"v":0.1269},{"r":"0.96","phase":0.0167,"v":0.13},{"r":"0.96","phase":0.0213,"v":0.1323},{"r":"0.96","phase":0.0282,"v":0.134},{"r":"0.96","phase":0.0328,"v":0.1323},{"r":"0.96","phase":0.0386,"v":0.1317},{"r":"0.96","phase":0.0443,"v":0.1325},{"r":"0.96","phase":0.0512,"v":0.1308},{"r":"0.96","phase":0.056,"v":0.1314},{"r":"0.96","phase":0.0582,"v":0.1306},{"r":"0.96","phase":0.0638,"v":0.1331},{"r":"0.96","phase":0.0703,"v":0.1344},{"r":"0.96","phase":0.0769,"v":0.1306},{"r":"0.96","phase":0.0815,"v":0.1331},{"r":"0.96","phase":0.0899,"v":0.132},{"r":"0.96","phase":0.0965,"v":0.1301},{"r":"0.96","phase":0.103,"v":0.1311},{"r":"0.96","phase":0.1087,"v":0.1337},{"r":"0.96","phase":0.1143,"v":0.1322},{"r":"0.96","phase":0.1217,"v":0.1311},{"r":"0.96","phase":0.1292,"v":0.1297},{"r":"0.96","phase":0.1367,"v":0.1314},{"r":"0.96","phase":0.1442,"v":0.1323},{"r":"0.96","phase":0.1498,"v":0.1337},{"r":"0.96","phase":0.1564,"v":0.13},{"r":"0.96","phase":0.1648,"v":0.1313},{"r":"0.96","phase":0.1723,"v":0.1309},{"r":"0.96","phase":0.1779,"v":0.1314},{"r":"0.96","phase":0.1816,"v":0.1306},{"r":"0.96","phase":0.1868,"v":0.1331},{"r":"0.96","phase":0.1919,"v":0.1292},{"r":"0.96","phase":0.1994,"v":0.1272},{"r":"0.96","phase":0.2059,"v":0.1289},{"r":"0.96","phase":0.2115,"v":0.1292},{"r":"0.96","phase":0.2171,"v":0.1289},{"r":"0.96","phase":0.2228,"v":0.1258},{"r":"0.96","phase":0.2274,"v":0.1252},{"r":"0.96","phase":0.2312,"v":0.1269},{"r":"0.96","phase":0.2368,"v":0.1249},{"r":"0.96","phase":0.2433,"v":0.1272},{"r":"0.96","phase":0.2499,"v":0.1246},{"r":"0.96","phase":0.2564,"v":0.1275},{"r":"0.96","phase":0.2648,"v":0.1289},{"r":"0.96","phase":0.2714,"v":0.1255},{"r":"0.96","phase":0.277,"v":0.1246},{"r":"0.96","phase":0.2826,"v":0.1229},{"r":"0.96","phase":0.2873,"v":0.1246},{"r":"0.96","phase":0.2938,"v":0.1258},{"r":"0.96","phase":0.3013,"v":0.1261},{"r":"0.96","phase":0.3069,"v":0.1249},{"r":"0.96","phase":0.3163,"v":0.1272},{"r":"0.96","phase":0.3219,"v":0.1252},{"r":"0.96","phase":0.3275,"v":0.1286},{"r":"0.96","phase":0.3331,"v":0.1266},{"r":"0.96","phase":0.3387,"v":0.1249},{"r":"0.96","phase":0.3425,"v":0.1266},{"r":"0.96","phase":0.3491,"v":0.1255}
  ]},
  "resolve": {"axis": {"x": "independent", "y": "independent"}},
  "layer": [
    {
      "mark": {"type": "line", "strokeWidth": 8, "strokeJoin": "round", "strokeCap": "round", "clip": true},
      "encoding": {
        "x": {
          "field": "phase", "type": "quantitative",
          "scale": {"domain": [-0.349066, 0.349066], "nice": false, "zero": false},
          "axis": {
            "orient": "bottom",
            "values": [-0.349066, -0.174533, 0, 0.174533, 0.349066],
            "labelExpr": "datum.value < -0.3 ? '-π/9' : datum.value < -0.1 ? '-π/18' : datum.value < 0.1 ? '0' : datum.value < 0.3 ? 'π/18' : 'π/9'",
            "title": "Spatial phase (rad)",
            "titleFontSize": 72, "titleColor": "#262626",
            "titleAnchor": "middle", "titleBaseline": "alphabetic", "titleY": 176,
            "labelFontSize": 66, "labelColor": "#262626", "labelPadding": 52, "labelFlush": false,
            "tickSize": -20, "tickWidth": 2.5, "tickColor": "#262626",
            "domainColor": "#262626", "domainWidth": 3
          }
        },
        "y": {
          "field": "v", "type": "quantitative",
          "scale": {"domain": [0, 0.2], "nice": false},
          "axis": {
            "orient": "left",
            "values": [0, 0.02, 0.04, 0.06, 0.08, 0.1, 0.12, 0.14, 0.16, 0.18, 0.2],
            "labelExpr": "datum.value == 0 ? '0' : (round(datum.value * 100) % 4 == 0 ? format(datum.value, '.2f') : '')",
            "title": "v ′ᵣₘₛ / Vₜᵢₚ",
            "titleFontSize": 72, "titleColor": "#262626",
            "titleAngle": 270, "titleAlign": "center", "titleBaseline": "alphabetic",
            "titleX": -240, "titleY": 590,
            "labelFontSize": 66, "labelColor": "#262626", "labelPadding": 48, "labelFlush": false,
            "tickSize": -20, "tickWidth": 2.5, "tickColor": "#262626",
            "domainColor": "#262626", "domainWidth": 3
          }
        },
        "color": {
          "field": "r", "type": "nominal",
          "scale": {"domain": ["0.707", "0.77", "0.83", "0.89", "0.96"], "range": ["#0072BD", "#D95319", "#EDB120", "#7E2F8E", "#77AC30"]},
          "legend": {
            "orient": "none", "legendX": 1009, "legendY": 681,
            "title": null, "direction": "vertical",
            "padding": 8, "fillColor": "white", "strokeColor": "#262626",
            "labelFontSize": 58, "labelColor": "black", "labelFont": "DejaVu Sans", "labelLimit": 1000,
            "labelExpr": "'r/rₜᵢₚ= ' + datum.label",
            "labelOffset": 18,
            "symbolType": "M-1,0H1M0.05,0A0.05,0.05,0,1,1,-0.05,0A0.05,0.05,0,1,1,0.05,0Z",
            "symbolSize": 26569, "symbolStrokeWidth": 3, "symbolOffset": 8,
            "clipHeight": 99, "rowPadding": 0,
            "encode": {
              "legend": {"update": {"strokeWidth": {"value": 3}}},
              "symbols": {"update": {"fill": {"scale": "color", "field": "value"}, "stroke": {"scale": "color", "field": "value"}}},
              "labels": {"update": {"dy": {"value": 4}}}
            }
          }
        }
      }
    },
    {
      "mark": {"type": "point", "filled": true, "size": 60, "opacity": 1, "clip": true},
      "encoding": {
        "x": {"field": "phase", "type": "quantitative", "axis": null},
        "y": {"field": "v", "type": "quantitative", "axis": null},
        "color": {"field": "r", "type": "nominal"}
      }
    },
    {
      "mark": {"type": "point", "opacity": 0},
      "encoding": {
        "x": {
          "field": "phase", "type": "quantitative",
          "axis": {"orient": "top", "values": [-0.349066, -0.174533, 0, 0.174533, 0.349066], "labels": false, "title": null,
                   "tickSize": -20, "tickWidth": 2.5, "tickColor": "#262626", "domainColor": "#262626", "domainWidth": 3}
        },
        "y": {
          "field": "v", "type": "quantitative",
          "axis": {"orient": "right", "values": [0, 0.02, 0.04, 0.06, 0.08, 0.1, 0.12, 0.14, 0.16, 0.18, 0.2], "labels": false, "title": null,
                   "tickSize": -20, "tickWidth": 2.5, "tickColor": "#262626", "domainColor": "#262626", "domainWidth": 3}
        }
      }
    }
  ]
}
